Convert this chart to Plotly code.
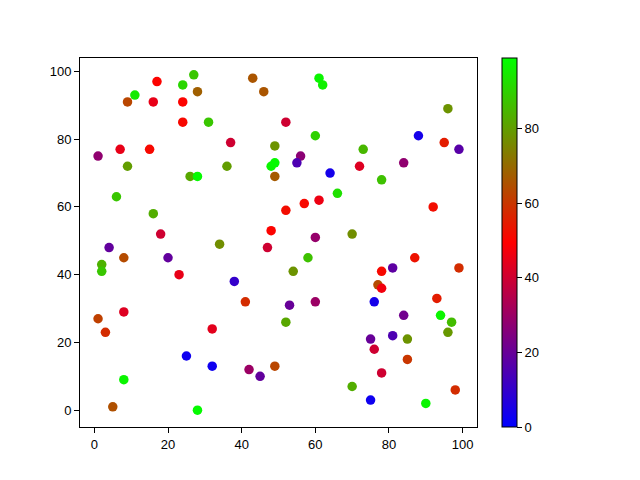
import plotly.graph_objects as go

# point positions and colour values
x_vals = [17, 27, 24, 28, 43, 46, 11, 9, 16, 24, 24, 31, 37, 49, 1, 7, 15, 9, 36, 48,
          49, 49, 26, 28, 6, 16, 18, 48, 61, 62, 96, 52, 60, 88, 95, 99, 73, 56, 55, 84,
          72, 64, 78, 66, 52, 57, 61, 92, 60, 70, 4, 34, 8, 20, 2, 2, 23, 38, 41, 8,
          1, 3, 32, 25, 32, 42, 45, 49, 8, 5, 28, 58, 54, 53, 60, 52, 87, 81, 78, 99,
          77, 78, 76, 93, 84, 94, 97, 96, 75, 81, 85, 76, 85, 78, 70, 75, 90, 98, 47]
y_vals = [97, 99, 96, 94, 98, 94, 93, 91, 91, 91, 85, 85, 79, 78, 75, 77, 77, 72, 72, 72,
          73, 69, 69, 69, 63, 58, 52, 53, 98, 96, 89, 85, 81, 81, 79, 77, 77, 75, 73, 73,
          72, 70, 68, 64, 59, 61, 62, 60, 51, 52, 48, 49, 45, 45, 43, 41, 40, 38, 32, 29,
          27, 23, 24, 16, 13, 12, 10, 13, 9, 1, 0, 45, 41, 31, 32, 26, 45, 42, 41, 42,
          37, 36, 32, 33, 28, 28, 26, 23, 21, 22, 21, 18, 15, 11, 7, 3, 2, 6, 48]
c_vals = [50, 88, 91, 68, 66, 66, 95, 63, 45, 50, 51, 88, 40, 78, 28, 45, 51, 80, 80, 97,
          98, 67, 82, 98, 88, 83, 40, 50, 97, 96, 78, 40, 90, 4, 55, 17, 85, 27, 15, 28,
          43, 4, 87, 93, 52, 51, 46, 52, 29, 77, 19, 77, 64, 19, 84, 88, 45, 10, 58, 43,
          62, 58, 44, 3, 3, 30, 19, 63, 97, 65, 98, 87, 78, 20, 30, 82, 53, 18, 51, 58,
          64, 47, 4, 55, 22, 97, 86, 79, 20, 15, 78, 40, 60, 40, 83, 3, 97, 58, 40]

axis_ticks = [0, 20, 40, 60, 80, 100]
bar_ticks = [0, 20, 40, 60, 80]

# matplotlib "brg" colormap
brg = [[0.0, 'rgb(0,0,255)'], [0.5, 'rgb(255,0,0)'], [1.0, 'rgb(0,255,0)']]

fig = go.Figure(go.Scatter(
    x=x_vals, y=y_vals, mode='markers',
    marker=dict(size=9.5, color=c_vals, colorscale=brg, cmin=0, cmax=99,
                line=dict(width=0),
                colorbar=dict(thickness=15, len=1, lenmode='fraction', y=0.5, yanchor='middle',
                              x=1.063, xanchor='left', xpad=0, ypad=0,
                              outlinewidth=1, outlinecolor='black',
                              tickmode='array', tickvals=bar_ticks,
                              ticks='outside', ticklen=5, tickcolor='black')),
    showlegend=False))

axis_style = dict(showgrid=False, zeroline=False, showline=True, linecolor='black',
                  linewidth=1, mirror=True, ticks='outside', ticklen=5, tickcolor='black',
                  tickmode='array', tickvals=axis_ticks)

# the page body adds 8px, so margins are shifted to compensate
fig.update_layout(
    width=640, height=480,
    margin=dict(l=72, r=171, t=50, b=61),
    plot_bgcolor='white', paper_bgcolor='white',
    font=dict(family='Liberation Sans', size=13, color='black'),
    xaxis=dict(range=[-3.9, 103.9], **axis_style),
    yaxis=dict(range=[-4.95, 103.95], **axis_style),
)

fig.write_html("out.html")
